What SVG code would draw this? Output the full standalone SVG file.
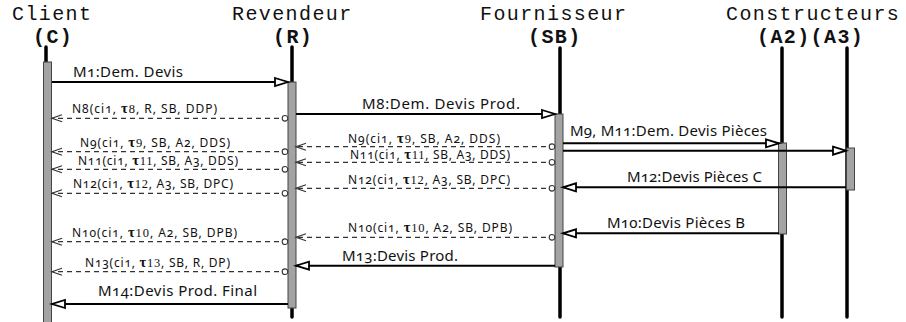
<svg xmlns="http://www.w3.org/2000/svg" width="906" height="322" viewBox="0 0 906 322">
<style>
.hd{font-family:"Liberation Mono","Courier New",monospace;font-size:20px;letter-spacing:1.4px;fill:#111}
.hb{font-weight:bold}
.life{stroke:#000;stroke-width:3.5;stroke-linecap:round}
.bar{fill:#a3a3a3;stroke:#444;stroke-width:1}
.sol{stroke:#000;stroke-width:2;fill:none;marker-end:url(#tri)}
.dsh{stroke:#333;stroke-width:1.2;stroke-dasharray:5,4;fill:none;marker-start:url(#circ);marker-end:url(#opn)}
.m{font-family:"Noto Sans","Open Sans",sans-serif;font-size:15px;fill:#111;font-feature-settings:"onum"}
.n{font-family:"Noto Sans","Open Sans",sans-serif;font-size:12px;fill:#111;font-feature-settings:"onum"}
.t{font-family:"Liberation Serif","DejaVu Serif",serif;font-size:12.5px}
.tau{font-weight:bold;font-size:14.5px}
</style>
<defs>
<marker id="tri" markerUnits="userSpaceOnUse" markerWidth="16" markerHeight="12" refX="14" refY="5" orient="auto" overflow="visible">
<path d="M1,1 L14,5 L1,9 Z" fill="#fff" stroke="#000" stroke-width="1.8"/>
</marker>
<marker id="opn" markerUnits="userSpaceOnUse" markerWidth="12" markerHeight="8" refX="10" refY="3.5" orient="auto" overflow="visible">
<path d="M0,0 L10,3.5 L0,7" fill="none" stroke="#333" stroke-width="1.2"/>
</marker>
<marker id="circ" markerUnits="userSpaceOnUse" markerWidth="8" markerHeight="8" refX="1" refY="4" orient="auto" overflow="visible">
<circle cx="4" cy="4" r="2.8" fill="#fff" stroke="#333" stroke-width="1.1"/>
</marker>
</defs>

<g id="client">
<text class="hd" x="12" y="20">Client</text>
<text class="hd hb" x="33" y="43">(C)</text>
<line class="life" x1="46" y1="47" x2="46" y2="320"/>
<rect class="bar" x="43.5" y="62" width="8" height="262"/>
</g>
<g id="revendeur">
<text class="hd" x="232" y="20">Revendeur</text>
<text class="hd hb" x="273" y="43">(R)</text>
<line class="life" x1="292" y1="47" x2="292" y2="317"/>
<rect class="bar" x="288" y="82" width="8" height="226"/>
</g>
<g id="fournisseur">
<text class="hd" x="480" y="20">Fournisseur</text>
<text class="hd hb" x="528" y="43">(SB)</text>
<line class="life" x1="560" y1="48" x2="560" y2="317"/>
<rect class="bar" x="555" y="114" width="8" height="153"/>
</g>
<g id="constructeurs">
<text class="hd" x="726" y="20">Constructeurs</text>
<text class="hd hb" x="757" y="43">(A2)(A3)</text>
</g>
<g id="a2">
<line class="life" x1="782" y1="48" x2="782" y2="317"/>
<rect class="bar" x="778.5" y="143" width="8" height="91"/>
</g>
<g id="a3">
<line class="life" x1="847" y1="48" x2="847" y2="317"/>
<rect class="bar" x="846.5" y="148" width="8" height="42"/>
</g>

<g id="connectors">
<line class="sol" x1="52" y1="82" x2="288" y2="82"/>
<text class="m" x="73" y="77" textLength="110">M1:Dem. Devis</text>

<line class="sol" x1="296" y1="114" x2="555" y2="114"/>
<text class="m" x="362" y="109" textLength="158">M8:Dem. Devis Prod.</text>

<line class="dsh" x1="288" y1="118.3" x2="52" y2="118.3"/>
<text class="n" x="72" y="113" textLength="145">N8(ci1, <tspan class="t"><tspan class="tau">τ</tspan>8</tspan>, R, SB, DDP)</text>

<line class="sol" x1="563" y1="143.3" x2="779" y2="143.3"/>
<line class="sol" x1="563" y1="150.7" x2="846" y2="150.7"/>
<text class="m" x="570" y="136" textLength="197">M9, M11:Dem. Devis Pièces</text>

<line class="dsh" x1="555" y1="146.7" x2="296" y2="146.7"/>
<text class="n" x="348" y="142.5" textLength="152">N9(ci1, <tspan class="t"><tspan class="tau">τ</tspan>9</tspan>, SB, A2, DDS)</text>
<line class="dsh" x1="555" y1="162.3" x2="296" y2="162.3"/>
<text class="n" x="350" y="158.5" textLength="160">N11(ci1, <tspan class="t"><tspan class="tau">τ</tspan>11</tspan>, SB, A3, DDS)</text>

<line class="dsh" x1="288" y1="151.7" x2="52" y2="151.7"/>
<text class="n" x="80" y="147" textLength="150">N9(ci1, <tspan class="t"><tspan class="tau">τ</tspan>9</tspan>, SB, A2, DDS)</text>
<line class="dsh" x1="288" y1="169.3" x2="52" y2="169.3"/>
<text class="n" x="78" y="165" textLength="160">N11(ci1, <tspan class="t"><tspan class="tau">τ</tspan>11</tspan>, SB, A3, DDS)</text>

<line class="sol" x1="846" y1="187.3" x2="563" y2="187.3"/>
<text class="m" x="627" y="182" textLength="135">M12:Devis Pièces C</text>

<line class="dsh" x1="555" y1="188.3" x2="296" y2="188.3"/>
<text class="n" x="348" y="184" textLength="162">N12(ci1, <tspan class="t"><tspan class="tau">τ</tspan>12</tspan>, A3, SB, DPC)</text>
<line class="dsh" x1="288" y1="193.3" x2="52" y2="193.3"/>
<text class="n" x="73" y="188" textLength="160">N12(ci1, <tspan class="t"><tspan class="tau">τ</tspan>12</tspan>, A3, SB, DPC)</text>

<line class="sol" x1="779" y1="233.3" x2="563" y2="233.3"/>
<text class="m" x="607" y="228" textLength="138">M10:Devis Pièces B</text>

<line class="dsh" x1="555" y1="237.3" x2="296" y2="237.3"/>
<text class="n" x="348" y="232" textLength="164">N10(ci1, <tspan class="t"><tspan class="tau">τ</tspan>10</tspan>, A2, SB, DPB)</text>
<line class="dsh" x1="288" y1="241.7" x2="52" y2="241.7"/>
<text class="n" x="72" y="237" textLength="165">N10(ci1, <tspan class="t"><tspan class="tau">τ</tspan>10</tspan>, A2, SB, DPB)</text>

<line class="sol" x1="555" y1="265.7" x2="296" y2="265.7"/>
<text class="m" x="342" y="261" textLength="116">M13:Devis Prod.</text>

<line class="dsh" x1="288" y1="271.7" x2="52" y2="271.7"/>
<text class="n" x="85" y="267" textLength="145">N13(ci1, <tspan class="t"><tspan class="tau">τ</tspan>13</tspan>, SB, R, DP)</text>

<line class="sol" x1="288" y1="304" x2="52" y2="304"/>
<text class="m" x="98" y="296" textLength="159">M14:Devis Prod. Final</text>
</g>
</svg>
